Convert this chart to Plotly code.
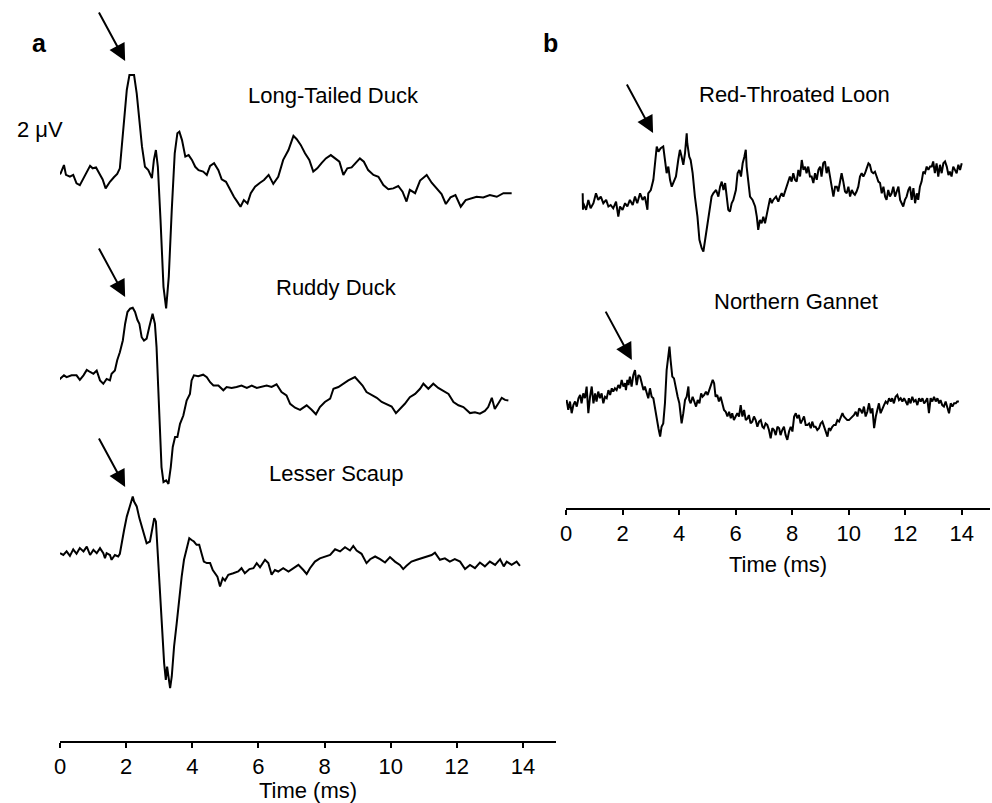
import plotly.graph_objects as go

# ---------------- data (time in ms, amplitude in microvolts) ----------------
ltd_t = [-0.15,-0.12,-0.10,-0.05,0.02,0.12,0.18,0.30,0.40,0.50,
         0.60,0.71,0.81,0.91,0.99,1.09,1.19,1.29,1.38,1.51,
         1.63,1.73,1.81,1.92,2.02,2.10,2.24,2.32,2.40,2.48,
         2.57,2.67,2.78,2.84,2.90,2.96,3.04,3.13,3.21,3.29,
         3.38,3.47,3.55,3.61,3.69,3.79,3.89,3.99,4.09,4.19,
         4.33,4.44,4.54,4.66,4.79,4.89,5.02,5.14,5.26,5.36,
         5.46,5.56,5.67,5.77,5.90,6.05,6.17,6.31,6.45,6.60,
         6.75,6.91,7.06,7.16,7.28,7.41,7.54,7.66,7.78,7.91,
         8.04,8.19,8.32,8.45,8.57,8.69,8.82,8.95,9.07,9.19,
         9.32,9.48,9.63,9.78,9.93,10.08,10.23,10.36,10.48,10.58,
         10.74,10.89,11.09,11.24,11.39,11.54,11.67,11.81,11.96,12.12,
         12.27,12.42,12.60,12.80,13.00,13.21,13.41,13.66]
ltd_v = [0.22,0.28,-0.11,0.17,0.22,0.5,0.17,0.11,0.17,-0.11,
         -0.17,0.06,0.22,0.47,0.39,0.42,0.22,0.02,-0.28,-0.06,
         0.09,0.2,0.39,1.78,3.0,3.5,3.5,2.89,2.0,1.11,
         0.44,0.33,0.06,0.67,1.0,0.44,-1.33,-3.56,-4.28,-3.22,
         -1.0,0.89,1.56,1.61,1.33,0.78,0.83,0.67,0.44,0.33,
         0.28,0.17,0.47,0.56,0.33,0.02,-0.06,-0.33,-0.56,-0.72,
         -0.89,-0.67,-0.78,-0.44,-0.22,-0.09,0,0.17,-0.13,0.11,
         0.67,1.0,1.47,1.36,1.17,0.89,0.67,0.28,0.39,0.56,
         0.72,0.83,0.72,0.61,0.17,0.39,0.42,0.58,0.72,0.61,
         0.33,0.17,0.11,-0.17,-0.31,-0.28,-0.2,-0.39,-0.72,-0.33,
         -0.44,-0.02,0.17,-0.09,-0.28,-0.47,-0.8,-0.58,-0.5,-0.89,
         -0.67,-0.61,-0.56,-0.58,-0.5,-0.56,-0.44,-0.44]

ruddy_t = [-0.22,-0.15,-0.05,0.05,0.12,0.20,0.35,0.50,0.60,0.71,
           0.81,0.91,1.01,1.11,1.21,1.31,1.41,1.51,1.56,1.66,
           1.73,1.81,1.90,1.97,2.04,2.12,2.20,2.27,2.34,2.40,
           2.47,2.54,2.62,2.70,2.80,2.87,2.92,2.97,3.02,3.07,
           3.13,3.21,3.28,3.35,3.41,3.48,3.55,3.63,3.73,3.83,
           3.93,3.98,4.05,4.18,4.33,4.44,4.54,4.64,4.79,4.94,
           5.04,5.19,5.34,5.49,5.65,5.80,5.95,6.10,6.25,6.40,
           6.55,6.70,6.85,6.96,7.11,7.26,7.46,7.61,7.74,7.86,
           8.01,8.17,8.27,8.42,8.57,8.72,8.92,9.02,9.15,9.27,
           9.43,9.58,9.73,9.88,10.03,10.16,10.28,10.43,10.58,10.74,
           10.89,10.99,11.14,11.29,11.44,11.59,11.75,11.90,12.05,12.20,
           12.40,12.55,12.70,12.85,12.95,13.06,13.15,13.26,13.36,13.46,
           13.56]
ruddy_v = [0.22,0.11,-0.11,0,0.06,0,0.06,0.06,-0.09,0.06,
           0.24,0.17,0.11,0.22,-0.11,-0.22,-0.06,-0.11,0.11,0.22,
           0.56,0.83,1.22,1.78,2.17,2.28,2.31,2.17,1.91,1.78,
           1.33,1.22,1.28,1.67,2.11,1.78,1.0,-0.33,-1.78,-3.0,
           -3.5,-3.44,-3.56,-3.0,-2.33,-2.0,-2.0,-1.56,-1.28,-0.78,
           -0.56,-0.11,0.06,0.03,0.08,0,-0.17,-0.28,-0.28,-0.44,
           -0.33,-0.36,-0.33,-0.28,-0.36,-0.28,-0.36,-0.31,-0.28,-0.33,
           -0.24,-0.5,-0.61,-0.89,-1.02,-1.09,-0.94,-1.09,-1.24,-1.0,
           -0.83,-0.72,-0.39,-0.33,-0.22,-0.11,0,-0.11,-0.28,-0.5,
           -0.61,-0.69,-0.83,-0.91,-0.98,-1.2,-1.06,-0.89,-0.67,-0.56,
           -0.39,-0.22,-0.39,-0.22,-0.36,-0.47,-0.56,-0.83,-0.94,-1.0,
           -1.2,-1.17,-1.22,-1.13,-1.0,-0.69,-1.06,-0.87,-0.69,-0.76,
           -0.78]

scaup_t = [0.00,0.10,0.20,0.30,0.40,0.50,0.60,0.71,0.81,0.91,
           1.01,1.11,1.21,1.31,1.36,1.41,1.51,1.56,1.66,1.76,
           1.81,1.86,1.94,2.02,2.10,2.20,2.24,2.32,2.40,2.47,
           2.54,2.62,2.72,2.80,2.85,2.90,2.94,3.00,3.07,3.15,
           3.20,3.24,3.28,3.33,3.38,3.45,3.53,3.61,3.68,3.75,
           3.83,3.91,3.98,4.05,4.13,4.21,4.28,4.35,4.44,4.54,
           4.62,4.69,4.76,4.84,4.92,4.99,5.09,5.24,5.39,5.49,
           5.59,5.73,5.85,5.95,6.05,6.20,6.30,6.40,6.50,6.60,
           6.75,6.91,7.06,7.21,7.36,7.46,7.56,7.71,7.86,8.01,
           8.17,8.32,8.47,8.62,8.77,8.87,8.97,9.12,9.27,9.38,
           9.53,9.68,9.83,9.98,10.13,10.28,10.38,10.48,10.63,10.79,
           10.94,11.09,11.24,11.34,11.49,11.64,11.79,11.94,12.10,12.25,
           12.40,12.55,12.70,12.85,13.00,13.16,13.31,13.42,13.51,13.66,
           13.81,13.91]
scaup_v = [0,-0.06,0.06,-0.09,0.13,-0.02,0.17,0.06,0.22,-0.06,
           0.11,0,0.17,0,-0.17,0,-0.06,-0.22,-0.06,-0.11,
           -0.02,0.33,0.78,1.22,1.5,1.89,1.72,1.56,1.17,0.89,
           0.56,0.33,0.39,0.89,1.17,1.06,0.33,-0.89,-2.33,-3.67,
           -4.22,-3.78,-4.11,-4.5,-4.11,-3.11,-2.33,-1.44,-0.78,-0.22,
           0.17,0.5,0.44,0.39,0.28,0.28,0,-0.28,-0.33,-0.33,
           -0.56,-0.69,-0.78,-1.11,-0.83,-0.91,-0.72,-0.67,-0.61,-0.5,
           -0.67,-0.53,-0.5,-0.33,-0.47,-0.22,-0.33,-0.72,-0.56,-0.61,
           -0.5,-0.61,-0.5,-0.39,-0.56,-0.69,-0.5,-0.28,-0.17,-0.11,
           -0.06,0.13,0.06,0.2,0.09,0.24,0.09,-0.02,-0.33,-0.2,
           -0.11,-0.2,-0.31,-0.13,-0.28,-0.39,-0.53,-0.42,-0.28,-0.22,
           -0.17,-0.11,-0.06,0.02,-0.22,-0.17,-0.28,-0.2,-0.28,-0.53,
           -0.39,-0.5,-0.31,-0.44,-0.28,-0.39,-0.2,-0.44,-0.28,-0.39,
           -0.28,-0.42]

loon_t = [0.59,0.60,0.61,0.71,0.79,0.87,0.97,1.06,1.14,1.23,
          1.32,1.42,1.50,1.58,1.67,1.77,1.85,1.91,2.00,2.09,
          2.17,2.26,2.36,2.44,2.52,2.62,2.71,2.79,2.88,2.91,
          3.00,3.09,3.15,3.21,3.27,3.35,3.44,3.50,3.56,3.62,
          3.68,3.74,3.80,3.89,3.97,4.03,4.09,4.15,4.21,4.27,
          4.29,4.36,4.41,4.48,4.56,4.65,4.72,4.80,4.86,4.92,
          4.98,5.04,5.09,5.15,5.21,5.31,5.39,5.45,5.51,5.57,
          5.63,5.68,5.74,5.80,5.86,5.92,6.01,6.07,6.13,6.19,
          6.25,6.31,6.36,6.39,6.45,6.51,6.60,6.69,6.75,6.80,
          6.86,6.92,6.98,7.04,7.10,7.16,7.22,7.28,7.33,7.43,
          7.51,7.57,7.63,7.69,7.75,7.81,7.87,7.92,7.98,8.04,
          8.10,8.16,8.22,8.28,8.34,8.40,8.46,8.51,8.57,8.63,
          8.69,8.75,8.81,8.87,8.93,8.99,9.04,9.10,9.16,9.22,
          9.28,9.34,9.40,9.46,9.52,9.58,9.63,9.69,9.75,9.81,
          9.87,9.93,9.99,10.05,10.11,10.17,10.22,10.28,10.34,10.40,
          10.46,10.52,10.58,10.64,10.70,10.75,10.81,10.87,10.93,10.99,
          11.05,11.11,11.17,11.23,11.29,11.34,11.40,11.46,11.52,11.58,
          11.64,11.70,11.76,11.82,11.87,11.93,11.99,12.05,12.11,12.17,
          12.23,12.29,12.35,12.41,12.46,12.52,12.58,12.64,12.70,12.76,
          12.82,12.88,12.94,12.99,13.05,13.11,13.17,13.23,13.29,13.35,
          13.41,13.47,13.53,13.58,13.64,13.70,13.76,13.82,13.88,13.94,
          14.00]
loon_v = [0.22,-0.33,-0.11,-0.33,0,-0.28,-0.11,0.22,0,0.11,
          -0.11,0,-0.22,-0.17,-0.28,-0.06,-0.56,-0.22,-0.33,-0.11,
          -0.22,0,-0.17,0.11,-0.11,0.22,0,0.11,-0.33,0.22,
          0.33,0.67,1.33,1.78,1.61,1.72,1.78,1.33,0.89,1.11,
          0.67,0.44,0.56,0.78,1.33,1.67,1.44,1.17,1.56,2.22,
          1.89,1.44,1.33,0.89,0.11,-0.56,-1.33,-1.61,-1.72,-1.33,
          -1.0,-0.44,-0.22,0.11,0.22,0.33,0.11,0.44,0.61,0.33,
          0.56,0.22,-0.33,-0.39,-0.11,0,0.33,0.89,1.0,0.78,
          1.22,1.44,1.67,1.11,0.56,0.11,0,-0.22,-0.56,-1.0,
          -0.67,-0.78,-0.56,-0.78,-0.5,-0.22,0.06,-0.11,0,0.11,
          -0.06,0.11,0.22,0.11,0.28,0.44,0.67,0.78,0.61,0.89,
          0.67,0.61,1.0,0.78,1.33,1.0,1.11,0.89,1.11,0.78,
          0.78,0.56,0.89,0.67,1.0,1.11,0.78,1.22,1.28,0.89,
          1.11,0.78,0.44,0.11,0.44,0.44,0.28,0.56,0.89,0.61,
          0.28,0.22,0.44,0.11,0.33,0.22,0.17,0.28,0.44,0.78,
          0.89,0.78,0.89,1.06,1.22,1.17,0.94,0.89,0.94,0.78,
          0.61,0.56,0.22,0.44,0.11,0,0.33,0.11,0.22,0.44,
          0.11,0.28,0.44,0,-0.11,-0.22,0,0.11,0.33,0.44,
          0,0.39,-0.11,0.22,0,0.44,0.61,0.94,0.89,1.11,
          1.0,1.11,1.11,1.28,0.89,1.22,0.78,1.17,0.89,1.22,
          1.28,1.11,0.83,0.94,0.78,1.11,1.0,0.89,1.17,1.0,
          1.22]

gannet_t = [0.02,0.08,0.14,0.20,0.26,0.32,0.38,0.44,0.50,0.55,
            0.61,0.67,0.73,0.79,0.85,0.91,0.97,1.03,1.08,1.14,
            1.20,1.26,1.32,1.38,1.44,1.50,1.56,1.62,1.67,1.73,
            1.79,1.85,1.91,1.97,2.03,2.09,2.12,2.17,2.21,2.26,
            2.32,2.38,2.44,2.50,2.56,2.62,2.68,2.74,2.79,2.85,
            2.91,2.97,3.03,3.09,3.15,3.21,3.27,3.33,3.38,3.44,
            3.50,3.56,3.62,3.66,3.70,3.76,3.82,3.89,3.95,4.01,
            4.06,4.09,4.15,4.21,4.27,4.33,4.36,4.41,4.48,4.54,
            4.60,4.66,4.72,4.78,4.83,4.89,4.95,5.01,5.07,5.13,
            5.19,5.24,5.29,5.35,5.41,5.47,5.53,5.59,5.65,5.71,
            5.77,5.83,5.88,5.94,6.00,6.06,6.12,6.18,6.24,6.30,
            6.36,6.42,6.47,6.53,6.59,6.65,6.71,6.77,6.83,6.89,
            6.95,7.00,7.06,7.12,7.18,7.24,7.30,7.36,7.42,7.48,
            7.54,7.59,7.65,7.71,7.77,7.83,7.89,7.95,8.01,8.07,
            8.13,8.18,8.24,8.30,8.36,8.42,8.48,8.54,8.60,8.66,
            8.71,8.77,8.83,8.89,8.95,9.01,9.07,9.13,9.19,9.25,
            9.30,9.36,9.42,9.48,9.54,9.60,9.66,9.72,9.78,9.83,
            9.89,9.95,10.01,10.07,10.13,10.19,10.25,10.31,10.37,10.42,
            10.48,10.54,10.60,10.66,10.72,10.78,10.84,10.90,10.96,11.01,
            11.07,11.13,11.19,11.25,11.31,11.37,11.43,11.49,11.54,11.60,
            11.66,11.72,11.78,11.84,11.90,11.96,12.02,12.08,12.13,12.19,
            12.25,12.31,12.37,12.43,12.49,12.55,12.61,12.67,12.72,12.78,
            12.84,12.90,12.96,13.02,13.08,13.14,13.20,13.25,13.31,13.37,
            13.43,13.49,13.55,13.61,13.67,13.73,13.79,13.84,13.90]
gannet_v = [0.11,-0.22,0.06,-0.33,-0.06,0.06,-0.11,0.17,0.28,0,
            0.33,0.17,0.56,-0.33,0.22,0.56,0,0.33,0.06,0.39,
            0.17,0.33,0,0.22,0.17,0.44,0.28,0.5,0.39,0.5,
            0.44,0.61,0.5,0.78,0.56,0.67,0.44,0.78,0.61,0.89,
            0.56,0.94,1.11,0.61,0.94,0.89,0.67,0.44,0.56,0.33,
            0.17,0.5,0.22,0.17,-0.22,-0.44,-0.83,-1.11,-0.78,-0.67,
            0,1.11,1.56,1.89,1.44,0.89,0.83,0.44,0.22,0,
            -0.44,-0.67,-0.33,0.11,0.22,0.56,0.11,0,0.22,0.06,
            -0.11,0.11,0,0.33,0.22,0.28,0.39,0.28,0.44,0.56,
            0.78,0.67,0.22,0.28,0.06,0.22,-0.06,-0.22,-0.28,-0.44,
            -0.28,-0.5,-0.33,-0.56,-0.44,-0.33,-0.44,-0.06,-0.44,-0.22,
            -0.56,-0.5,-0.39,-0.67,-0.61,-0.44,-0.56,-0.78,-0.61,-0.56,
            -0.78,-0.83,-0.67,-0.72,-0.89,-1.17,-0.83,-0.89,-1.06,-0.78,
            -0.83,-1.06,-0.89,-0.78,-1.06,-1.22,-0.94,-0.78,-0.94,-0.44,
            -0.33,-0.5,-0.39,-0.67,-0.56,-0.44,-0.72,-0.72,-0.67,-0.83,
            -0.61,-0.78,-0.78,-0.89,-0.83,-0.67,-0.61,-0.78,-0.89,-1.11,
            -0.83,-0.89,-0.78,-0.72,-0.72,-0.56,-0.61,-0.44,-0.33,-0.44,
            -0.5,-0.56,-0.56,-0.5,-0.44,-0.39,-0.28,-0.44,-0.17,-0.22,
            -0.33,-0.11,-0.44,-0.28,0,-0.33,-0.17,-0.83,-0.44,-0.22,
            0,-0.33,-0.22,-0.06,0.06,0,0.17,0.06,0.17,0,
            0.22,0.28,0.11,0.17,0.06,0.17,0.06,-0.06,0.17,0,
            0.22,0.06,0.11,-0.06,0.17,0.06,0.17,0,0.06,0.17,
            -0.33,0.17,0.06,0.22,0.06,0.17,0,0.11,-0.06,-0.11,
            0.06,-0.17,-0.33,0,-0.11,0,0,0.06,0.06]

species_a = ["Long-Tailed Duck", "Ruddy Duck", "Lesser Scaup"]
species_b = ["Red-Throated Loon", "Northern Gannet"]
tick_vals = [0, 2, 4, 6, 8, 10, 12, 14]
x_title = "Time (ms)"
scale_label = "2 \u03bcV"

# ---------------- layout / styling ----------------
FONT = "Liberation Sans, Arial, Helvetica, sans-serif"
TXT = 22
offsets = {"Long-Tailed Duck": 18.7, "Ruddy Duck": 12.13, "Lesser Scaup": 6.26,
           "Red-Throated Loon": 10.27, "Northern Gannet": 3.49}
series = {"Long-Tailed Duck": (ltd_t, ltd_v, "x", "y"),
          "Ruddy Duck": (ruddy_t, ruddy_v, "x", "y"),
          "Lesser Scaup": (scaup_t, scaup_v, "x", "y"),
          "Red-Throated Loon": (loon_t, loon_v, "x2", "y2"),
          "Northern Gannet": (gannet_t, gannet_v, "x2", "y2")}
# label centre (time, height above trace baseline)
label_pos = {"Long-Tailed Duck": (8.26, 2.83), "Ruddy Duck": (8.35, 3.0),
             "Lesser Scaup": (8.35, 2.67), "Red-Throated Loon": (8.10, 3.5),
             "Northern Gannet": (8.14, 3.38)}
# arrow tip (time, height above trace baseline)
arrow_pos = {"Long-Tailed Duck": (1.97, 3.97), "Ruddy Duck": (1.97, 2.67),
             "Lesser Scaup": (1.97, 2.21), "Red-Throated Loon": (3.08, 2.23),
             "Northern Gannet": (2.33, 1.44)}

fig = go.Figure()
for name, (t, v, xa, ya) in series.items():
    off = offsets[name]
    fig.add_trace(go.Scatter(x=t, y=[val + off for val in v], mode="lines",
                             line=dict(color="black", width=2),
                             xaxis=xa, yaxis=ya, name=name, showlegend=False,
                             hoverinfo="skip"))

annotations = []
for name in series:
    xa, ya = series[name][2], series[name][3]
    lt, lh = label_pos[name]
    annotations.append(dict(x=lt, y=offsets[name] + lh, xref=xa, yref=ya,
                            text=name, showarrow=False,
                            font=dict(family=FONT, size=TXT, color="black")))
    at, ah = arrow_pos[name]
    annotations.append(dict(x=at, y=offsets[name] + ah, xref=xa, yref=ya,
                            text="", showarrow=True, ax=-27, ay=-50,
                            arrowhead=2, arrowsize=1.7, arrowwidth=2,
                            arrowcolor="black", standoff=0))

annotations.append(dict(x=-0.0323, y=0.9636, xref="paper", yref="paper",
                        text="<b>a</b>", showarrow=False,
                        font=dict(family=FONT, size=25, color="black")))
annotations.append(dict(x=0.5269, y=0.9636, xref="paper", yref="paper",
                        text="<b>b</b>", showarrow=False,
                        font=dict(family=FONT, size=25, color="black")))
annotations.append(dict(x=-0.0484, y=0.8448, xref="paper", yref="paper",
                        text=scale_label, showarrow=False, xanchor="left",
                        font=dict(family=FONT, size=TXT, color="black")))

def xaxis_style(domain, anchor, standoff):
    return dict(domain=domain, anchor=anchor, range=[0, 15],
                tickvals=tick_vals, ticktext=[str(v) for v in tick_vals],
                ticks="outside", ticklen=5, tickwidth=1.5, tickcolor="black",
                showline=True, linecolor="black", linewidth=2,
                showgrid=False, zeroline=False,
                tickfont=dict(family=FONT, size=TXT, color="black"),
                title=dict(text=x_title, standoff=standoff,
                           font=dict(family=FONT, size=TXT, color="black")))

fig.update_layout(
    width=992, height=803,
    margin=dict(l=60, r=2, t=0, b=62),
    paper_bgcolor="white", plot_bgcolor="white",
    xaxis=xaxis_style([0, 0.5333], "y", 7),
    xaxis2=xaxis_style([0.5441, 1.0], "y2", 11),
    yaxis=dict(domain=[0, 1], range=[0, 24.7], visible=False, anchor="x"),
    yaxis2=dict(domain=[0.3144, 1], range=[0, 16.933], visible=False, anchor="x2"),
    annotations=annotations,
    showlegend=False,
)

fig.write_html("out.html")
